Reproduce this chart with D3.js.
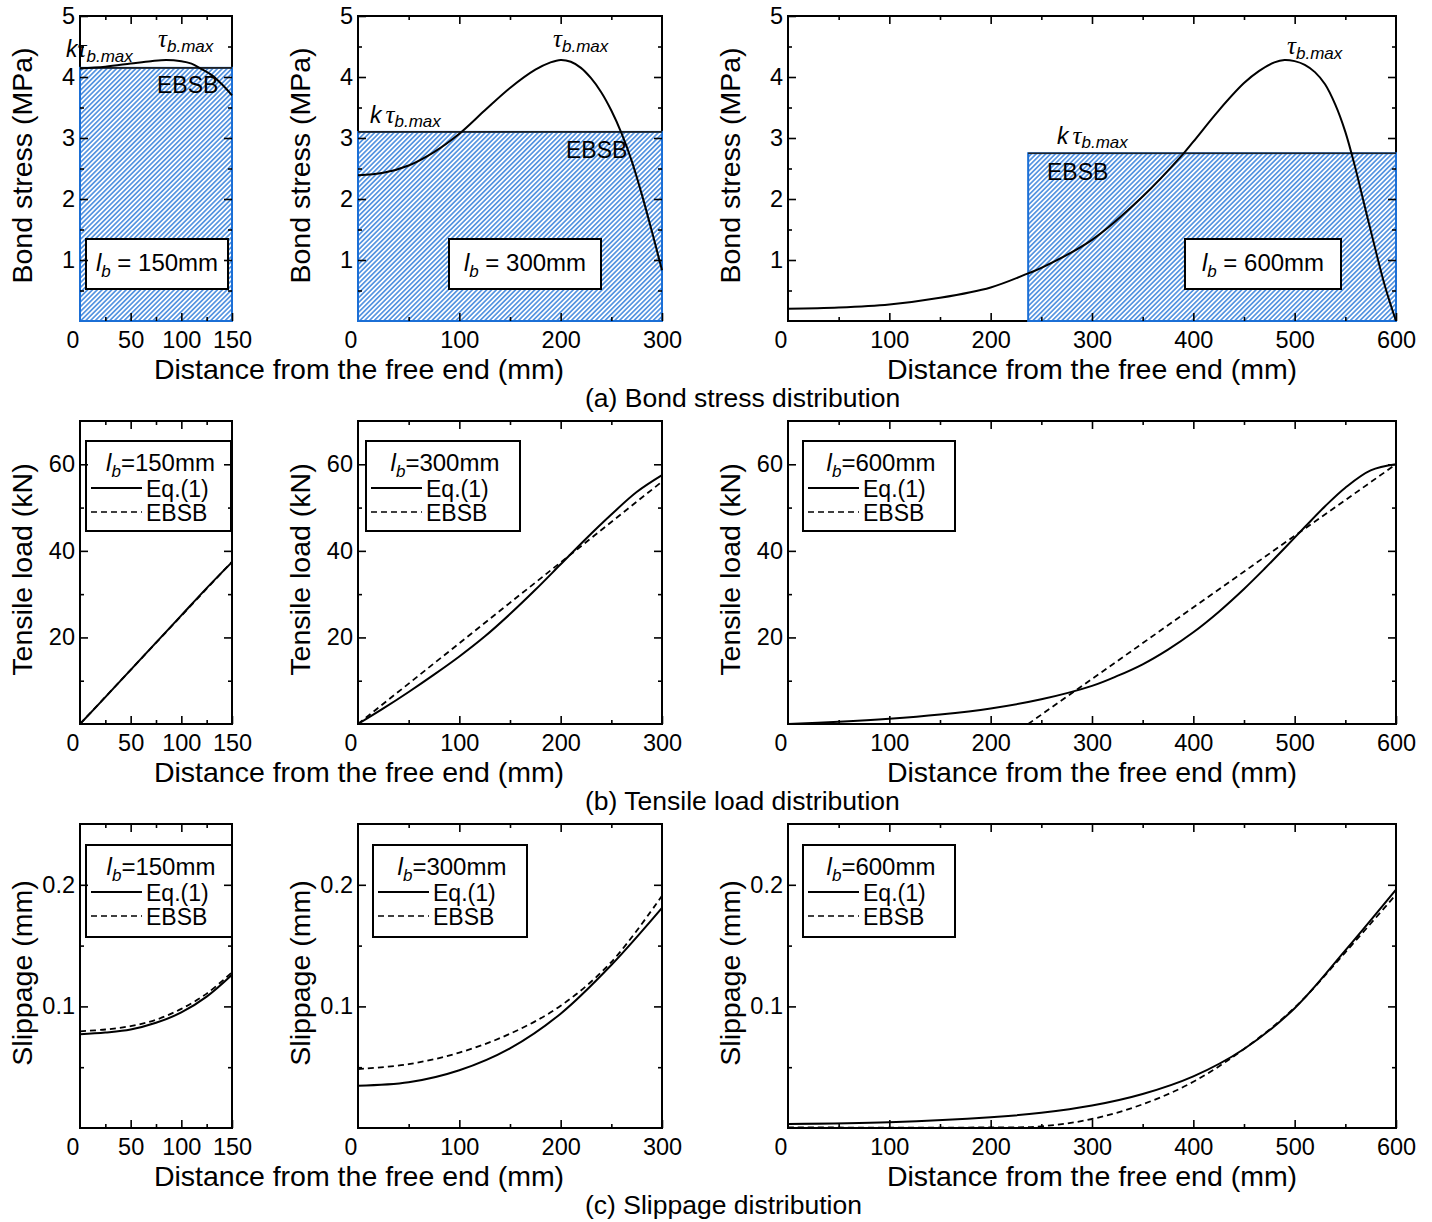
<!DOCTYPE html>
<html><head><meta charset="utf-8">
<script src="https://cdn.jsdelivr.net/npm/d3@7"></script>
<style>body{margin:0;background:#fff}svg{display:block;font-family:"Liberation Sans",Arial,sans-serif}</style>
</head><body><svg id="c" width="1432" height="1222"></svg>
<script>
// ---------------- data ----------------
const lengths = [150, 300, 600];
const ebsbLevel = [4.15, 3.10, 2.75];     // k*tau_b.max (MPa)
const ebsbStart = [0, 0, 237];           // start of EBSB block (mm)

// (a) bond stress, Eq.(1)
const bondX150 = [0, 25, 50, 70, 85, 100, 110, 120, 130, 140, 150];
const bondEq150 = [4.14, 4.17, 4.22, 4.26, 4.28, 4.26, 4.22, 4.13, 4.03, 3.88, 3.70];
const bondX300 = [0, 25, 50, 75, 100, 125, 150, 175, 190, 200, 210, 220, 230, 240, 250, 260, 270, 280, 290, 300];
const bondEq300 = [2.39, 2.43, 2.55, 2.77, 3.07, 3.45, 3.82, 4.12, 4.24, 4.28, 4.25, 4.15, 3.98, 3.75, 3.45, 3.08, 2.63, 2.08, 1.47, 0.83];
const bondX600 = [0, 50, 100, 150, 200, 237, 250, 300, 350, 390, 400, 425, 450, 465, 480, 490, 500, 510, 520, 530, 540, 550, 560, 570, 580, 590, 600];
const bondEq600 = [0.20, 0.22, 0.27, 0.38, 0.55, 0.78, 0.87, 1.33, 2.04, 2.74, 2.94, 3.45, 3.90, 4.10, 4.24, 4.28, 4.26, 4.20, 4.08, 3.88, 3.55, 3.10, 2.50, 1.82, 1.15, 0.52, 0.0];

// (b) tensile load
const loadX150 = [0, 25, 50, 75, 100, 125, 150];
const loadEq150 = [0, 6.2, 12.5, 18.8, 25.1, 31.4, 37.4];
const loadEbX150 = [0, 150];
const loadEb150 = [0, 37.5];
const loadX300 = [0, 25, 50, 75, 100, 125, 150, 175, 200, 225, 250, 275, 300];
const loadEq300 = [0, 3.6, 7.4, 11.4, 15.6, 20.2, 25.4, 31.0, 36.9, 42.8, 48.4, 53.6, 57.5];
const loadEbX300 = [0, 300];
const loadEb300 = [0, 56];
const loadX600 = [0, 50, 100, 150, 200, 250, 300, 325, 350, 375, 400, 425, 450, 470, 490, 510, 530, 550, 575, 600];
const loadEq600 = [0, 0.5, 1.2, 2.2, 3.6, 5.7, 8.8, 11.1, 13.8, 17.2, 21.2, 25.9, 31.2, 35.8, 40.6, 45.5, 50.3, 54.6, 58.6, 60.0];
const loadEbX600 = [0, 237, 600];
const loadEb600 = [0, 0, 60];

// (c) slippage
const slipX150 = [0, 25, 50, 75, 100, 125, 150];
const slipEq150 = [0.077, 0.0785, 0.081, 0.0865, 0.095, 0.108, 0.126];
const slipEb150 = [0.0795, 0.081, 0.0838, 0.089, 0.098, 0.1105, 0.128];
const slipX300 = [0, 50, 100, 150, 200, 250, 300];
const slipEq300 = [0.0348, 0.0376, 0.0475, 0.0655, 0.094, 0.134, 0.181];
const slipEb300 = [0.0485, 0.0525, 0.062, 0.0775, 0.1005, 0.1365, 0.191];
const slipX600 = [0, 100, 200, 250, 300, 350, 400, 450, 500, 550, 600];
const slipEq600 = [0.0033, 0.0047, 0.0088, 0.0125, 0.0185, 0.028, 0.0425, 0.065, 0.0985, 0.146, 0.196];
const slipEbX600 = [0, 200, 250, 300, 350, 400, 450, 500, 550, 600];
const slipEb600 = [0.0005, 0.0005, 0.0014, 0.0074, 0.0195, 0.038, 0.065, 0.099, 0.1445, 0.192];

const yTitles = ["Bond stress (MPa)", "Tensile load (kN)", "Slippage (mm)"];
const captions = ["(a) Bond stress distribution", "(b) Tensile load distribution", "(c) Slippage distribution"];
const xTitle = "Distance from the free end (mm)";

// ---------------- layout ----------------
const cols = [
  {x0: 80, x1: 232, max: 150, major: 50, minor: 25},
  {x0: 358, x1: 662, max: 300, major: 100, minor: 50},
  {x0: 788, x1: 1396, max: 600, major: 100, minor: 50}
];
const rows = [
  {y0: 16, y1: 321, max: 5, major: 1, minor: 0.5, fmt: d3.format("d")},
  {y0: 421, y1: 724, max: 70, major: 20, minor: 10, fmt: d3.format("d")},
  {y0: 824, y1: 1128, max: 0.25, major: 0.1, minor: 0.05, fmt: d3.format(".1f")}
];
const BLUE = "#1b6fd6";
const TICKFONT = 23.5;

const svg = d3.select("#c");
const defs = svg.append("defs");
const pat = defs.append("pattern").attr("id", "hatch").attr("patternUnits", "userSpaceOnUse")
  .attr("width", 3.4).attr("height", 3.4).attr("patternTransform", "rotate(45)");
pat.append("rect").attr("width", 3.4).attr("height", 3.4).attr("fill", "#fff");
pat.append("line").attr("x1", 1.7).attr("x2", 1.7).attr("y1", 0).attr("y2", 3.4)
  .attr("stroke", BLUE).attr("stroke-width", 1.25);

// multiples of step between 0 and max (max included if incl)
function rng(step, max, incl) {
  const out = [];
  for (let i = 1; i * step <= max + 1e-9; i++) {
    const v = +(i * step).toFixed(6);
    if (!incl && Math.abs(v - max) < 1e-9) continue;
    out.push(v);
  }
  return out;
}
const isMult = (v, s) => Math.abs(v / s - Math.round(v / s)) < 1e-6;

function makePanel(r, c) {
  const C = cols[c], R = rows[r];
  const x = d3.scaleLinear().domain([0, C.max]).range([C.x0, C.x1]);
  const y = d3.scaleLinear().domain([0, R.max]).range([R.y1, R.y0]);
  const g = svg.append("g");
  g.append("rect").attr("x", C.x0).attr("y", R.y0).attr("width", C.x1 - C.x0).attr("height", R.y1 - R.y0)
    .attr("fill", "none").attr("stroke", "#000").attr("stroke-width", 2);
  return {x, y, g, C, R, r, c};
}

function drawAxes(p) {
  const {x, y, g, C, R} = p;
  const xMaj = rng(C.major, C.max, true);
  const xMajTicks = rng(C.major, C.max, false);
  const xMin = rng(C.minor, C.max, false).filter(v => !isMult(v, C.major));
  const yMaj = rng(R.major, R.max, true);
  const yMajTicks = rng(R.major, R.max, false);
  const yMin = rng(R.minor, R.max, false).filter(v => !isMult(v, R.major));
  const ag = g.append("g");
  function put(axis, tx, ty) {
    const s = ag.append("g").attr("transform", `translate(${tx},${ty})`).call(axis);
    s.select(".domain").remove();
    s.selectAll("line").attr("stroke", "#000").attr("stroke-width", 1.6);
    s.selectAll("text").attr("font-size", TICKFONT).attr("font-family", '"Liberation Sans",Arial,sans-serif').attr("fill", "#000");
    return s;
  }
  put(d3.axisBottom(x).tickValues(xMaj).tickSize(-8).tickPadding(10).tickFormat(d3.format("d")), 0, R.y1);
  put(d3.axisBottom(x).tickValues(xMin).tickSize(-4).tickFormat(""), 0, R.y1);
  put(d3.axisTop(x).tickValues(xMajTicks).tickSize(-8).tickFormat(""), 0, R.y0);
  put(d3.axisTop(x).tickValues(xMin).tickSize(-4).tickFormat(""), 0, R.y0);
  put(d3.axisLeft(y).tickValues(yMaj).tickSize(-8).tickPadding(5).tickFormat(R.fmt), C.x0, 0);
  put(d3.axisLeft(y).tickValues(yMin).tickSize(-4).tickFormat(""), C.x0, 0);
  put(d3.axisRight(y).tickValues(yMajTicks).tickSize(-8).tickFormat(""), C.x1, 0);
  put(d3.axisRight(y).tickValues(yMin).tickSize(-4).tickFormat(""), C.x1, 0);
  // combined origin label
  g.append("text").attr("x", C.x0 - 7).attr("y", R.y1 + 27).attr("text-anchor", "middle")
    .attr("font-size", 23).text("0");
  // y title
  const cy = (R.y0 + R.y1) / 2 - 3;
  g.append("text").attr("transform", `translate(${C.x0 - 58},${cy}) rotate(-90)`)
    .attr("text-anchor", "middle").attr("dominant-baseline", "central")
    .attr("font-size", 28.5).text(yTitles[p.r]);
}

const lineGen = (x, y) => d3.line().x(d => x(d[0])).y(d => y(d[1])).curve(d3.curveCatmullRom.alpha(0.5));
const zip = (a, b) => a.map((v, i) => [v, b[i]]);

function lbText(sel, xx, yy, len, spaced, anchor) {
  const t = sel.append("text").attr("x", xx).attr("y", yy).attr("font-size", 24).attr("text-anchor", anchor);
  t.append("tspan").attr("font-style", "italic").text("l");
  t.append("tspan").attr("font-style", "italic").attr("font-size", 17).attr("dy", 6).text("b");
  t.append("tspan").attr("dy", -6).text((spaced ? " = " : "=") + len + "mm");
  return t;
}

function ktau(sel, xx, yy, withK, gap, sub) {
  const t = sel.append("text").attr("x", xx).attr("y", yy).attr("font-size", 23);
  if (withK) t.append("tspan").attr("font-style", "italic").text("k");
  t.append("tspan").attr("font-style", "italic").attr("font-family", '"Liberation Serif","Times New Roman",serif')
    .attr("font-size", 25).attr("dx", withK ? gap : 0).text("τ");
  t.append("tspan").attr("font-style", "italic").attr("font-size", 17).attr("dy", sub).text("b.max");
}

// ---------------- row (a): bond stress ----------------
const bondX = [bondX150, bondX300, bondX600];
const bondEq = [bondEq150, bondEq300, bondEq600];
const boxA = [[86, 228], [449, 601], [1185, 1341]];
const annA = [
  {k: [66, 57, 0, 5], t: [158, 47], e: [157, 93]},
  {k: [370, 123, 4, 4], t: [553, 47], e: [566, 158]},
  {k: [1057, 144, 4, 4], t: [1287, 54], e: [1047, 180]}
];
for (let c = 0; c < 3; c++) {
  const p = makePanel(0, c);
  const {x, y, g} = p;
  const x0 = x(ebsbStart[c]), x1 = x(lengths[c]), yt = y(ebsbLevel[c]), yb = y(0);
  g.append("rect").attr("x", x0).attr("y", yt).attr("width", x1 - x0).attr("height", yb - yt)
    .attr("fill", "url(#hatch)").attr("stroke", BLUE).attr("stroke-width", 2);
  g.append("line").attr("x1", x0).attr("x2", x1).attr("y1", yt).attr("y2", yt)
    .attr("stroke", "#222").attr("stroke-width", 1.6);
  g.append("path").attr("d", lineGen(x, y)(zip(bondX[c], bondEq[c])))
    .attr("fill", "none").attr("stroke", "#000").attr("stroke-width", 2);
  // label box
  const bx = boxA[c];
  g.append("rect").attr("x", bx[0]).attr("y", 239).attr("width", bx[1] - bx[0]).attr("height", 50)
    .attr("fill", "#fff").attr("stroke", "#000").attr("stroke-width", 2);
  lbText(g, (bx[0] + bx[1]) / 2, 271, lengths[c], true, "middle");
  const a = annA[c];
  ktau(g, a.k[0], a.k[1], true, a.k[2], a.k[3]);
  ktau(g, a.t[0], a.t[1], false, 0, 5);
  g.append("text").attr("x", a.e[0]).attr("y", a.e[1]).attr("font-size", 23).text("EBSB");
  drawAxes(p);
}

// ---------------- rows (b), (c) ----------------
const loadSets = [
  {eq: zip(loadX150, loadEq150), eb: zip(loadEbX150, loadEb150)},
  {eq: zip(loadX300, loadEq300), eb: zip(loadEbX300, loadEb300)},
  {eq: zip(loadX600, loadEq600), eb: zip(loadEbX600, loadEb600)}
];
const slipSets = [
  {eq: zip(slipX150, slipEq150), eb: zip(slipX150, slipEb150)},
  {eq: zip(slipX300, slipEq300), eb: zip(slipX300, slipEb300)},
  {eq: zip(slipX600, slipEq600), eb: zip(slipEbX600, slipEb600)}
];
const legBoxes = [
  [[86, 231, 441, 531], [366, 520, 441, 531], [803, 955, 441, 531]],
  [[86, 232, 845, 937], [373, 527, 845, 937], [803, 955, 845, 937]]
];
[loadSets, slipSets].forEach((sets, k) => {
  const r = k + 1;
  for (let c = 0; c < 3; c++) {
    const p = makePanel(r, c);
    const {x, y, g} = p;
    const lg = lineGen(x, y);
    const ebLine = d3.line().x(d => x(d[0])).y(d => y(d[1]))
      .curve(sets[c].eb.length <= 3 ? d3.curveLinear : d3.curveCatmullRom.alpha(0.5));
    g.append("path").attr("d", ebLine(sets[c].eb)).attr("fill", "none").attr("stroke", "#000")
      .attr("stroke-width", 1.8).attr("stroke-dasharray", "6,4");
    g.append("path").attr("d", lg(sets[c].eq)).attr("fill", "none").attr("stroke", "#000").attr("stroke-width", 2);
    // legend
    const b = legBoxes[k][c];
    g.append("rect").attr("x", b[0]).attr("y", b[2]).attr("width", b[1] - b[0]).attr("height", b[3] - b[2])
      .attr("fill", "#fff").attr("stroke", "#000").attr("stroke-width", 2);
    lbText(g, (b[0] + b[1]) / 2 + 2, b[2] + 30, lengths[c], false, "middle");
    g.append("line").attr("x1", b[0] + 5).attr("x2", b[0] + 56).attr("y1", b[2] + 47).attr("y2", b[2] + 47)
      .attr("stroke", "#000").attr("stroke-width", 1.8);
    g.append("text").attr("x", b[0] + 60).attr("y", b[2] + 56).attr("font-size", 23).text("Eq.(1)");
    g.append("line").attr("x1", b[0] + 5).attr("x2", b[0] + 56).attr("y1", b[2] + 71).attr("y2", b[2] + 71)
      .attr("stroke", "#000").attr("stroke-width", 1.6).attr("stroke-dasharray", "6,4");
    g.append("text").attr("x", b[0] + 60).attr("y", b[2] + 80).attr("font-size", 23).text("EBSB");
    drawAxes(p);
  }
});

// ---------------- row titles & captions ----------------
rows.forEach((R, r) => {
  svg.append("text").attr("x", 359).attr("y", R.y1 + 58).attr("text-anchor", "middle").attr("font-size", 28.5).text(xTitle);
  svg.append("text").attr("x", 1092).attr("y", R.y1 + 58).attr("text-anchor", "middle").attr("font-size", 28.5).text(xTitle);
  svg.append("text").attr("x", 585).attr("y", R.y1 + 86).attr("font-size", 26.5).text(captions[r]);
});
</script></body></html>
